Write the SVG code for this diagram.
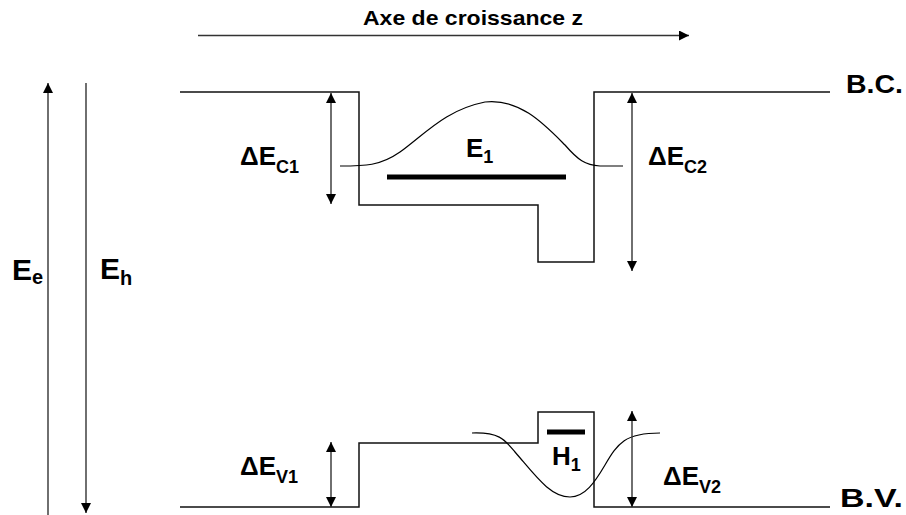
<svg xmlns="http://www.w3.org/2000/svg" width="906" height="515" viewBox="0 0 906 515">
<defs>
<marker id="ah" viewBox="0 0 10 10" refX="10" refY="5" markerWidth="10" markerHeight="10" markerUnits="userSpaceOnUse" orient="auto-start-reverse">
<path d="M0,0 L10,5 L0,10 z" fill="#000"/>
</marker>
<style>
.band{fill:none;stroke:#111;stroke-width:1.5}
.wave{fill:none;stroke:#000;stroke-width:1.2}
.arr{fill:none;stroke:#333;stroke-width:1.4}
.lvl{stroke:#000;stroke-width:5}
text{font-family:"Liberation Sans",Arial,sans-serif;font-weight:bold;fill:#000}
.lab{font-size:26px}
.sub{font-size:18px}
</style>
</defs>
<rect width="906" height="515" fill="#fff"/>
<g id="axis">
<line class="arr" x1="198" y1="35.5" x2="689" y2="35.5" marker-end="url(#ah)"/>
<text x="363" y="25" font-size="21" textLength="220" lengthAdjust="spacingAndGlyphs">Axe de croissance z</text>
</g>
<g id="conduction-band">
<path class="band" d="M180,92 H359 V205 H538 V262 H594 V92 H830"/>
<text x="846" y="93" font-size="26" textLength="57" lengthAdjust="spacingAndGlyphs">B.C.</text>
</g>
<g id="valence-band">
<path class="band" d="M180,507 H359 V443 H538 V412 H594 V507 H830"/>
<text x="840" y="507" font-size="26" textLength="63" lengthAdjust="spacingAndGlyphs">B.V.</text>
</g>
<g id="E1">
<path class="wave" d="M340,166 C365,166 380,166 400,152 C425,134 445,110 485,102 C520,98 545,125 565,145 C578,160 585,165 600,166 L623,166"/>
<line class="lvl" x1="387" y1="177" x2="566" y2="177"/>
<text class="lab" x="466" y="157">E<tspan class="sub" dy="6">1</tspan></text>
</g>
<g id="H1">
<path class="wave" d="M472,433 C500,432 505,440 515,452 C535,475 550,497 570,497 C585,497 595,482 605,465 C618,443 625,433 660,433"/>
<line class="lvl" x1="547" y1="432" x2="585" y2="432"/>
<text class="lab" x="552" y="465">H<tspan class="sub" dy="6">1</tspan></text>
</g>
<g id="connectors">
<line class="arr" x1="48" y1="515" x2="48" y2="83" marker-end="url(#ah)"/>
<line class="arr" x1="86" y1="83" x2="86" y2="513" marker-end="url(#ah)"/>
<line class="arr" x1="331" y1="93" x2="331" y2="204" marker-start="url(#ah)" marker-end="url(#ah)"/>
<line class="arr" x1="632" y1="93" x2="632" y2="271" marker-start="url(#ah)" marker-end="url(#ah)"/>
<line class="arr" x1="331" y1="442" x2="331" y2="507" marker-start="url(#ah)" marker-end="url(#ah)"/>
<line class="arr" x1="632" y1="411" x2="632" y2="507" marker-start="url(#ah)" marker-end="url(#ah)"/>
</g>
<g id="labels">
<text class="lab" x="240" y="165">ΔE<tspan class="sub" dy="8">C1</tspan></text>
<text class="lab" x="648" y="165">ΔE<tspan class="sub" dy="8">C2</tspan></text>
<text class="lab" x="240" y="475">ΔE<tspan class="sub" dy="8">V1</tspan></text>
<text class="lab" x="663" y="485">ΔE<tspan class="sub" dy="8">V2</tspan></text>
<text x="12" y="280" font-size="30">E<tspan font-size="20" dy="4">e</tspan></text>
<text x="100" y="279" font-size="30">E<tspan font-size="20" dy="6">h</tspan></text>
</g>
</svg>
